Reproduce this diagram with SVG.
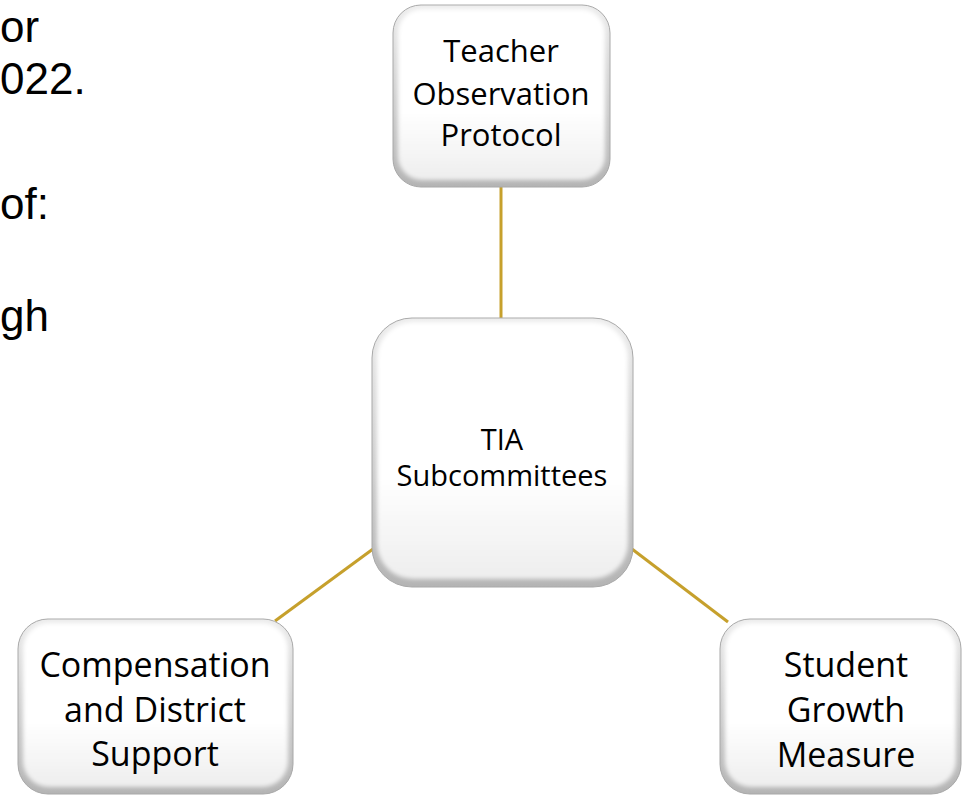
<svg xmlns="http://www.w3.org/2000/svg" width="963" height="795" viewBox="0 0 963 795">
<defs>
<linearGradient id="edge" x1="0" y1="0" x2="0" y2="1">
<stop offset="0" stop-color="#ececec"/>
<stop offset="1" stop-color="#b4b4b4"/>
</linearGradient>
<linearGradient id="face" x1="0" y1="0" x2="0" y2="1">
<stop offset="0" stop-color="#ffffff"/>
<stop offset="0.6" stop-color="#ffffff"/>
<stop offset="1" stop-color="#eeeeee"/>
</linearGradient>
<filter id="soft" x="-10%" y="-10%" width="120%" height="120%">
<feGaussianBlur stdDeviation="2.2"/>
</filter>
</defs>
<style>
.edge{fill:url(#edge);stroke:#a8a8a8;stroke-width:1}
.face{fill:url(#face);filter:url(#soft)}
.lbl{font-family:"Open Sans","Noto Sans",sans-serif;fill:#000;text-anchor:middle}
.side{font-family:"Liberation Sans",Arial,sans-serif;font-size:44px;fill:#000}
.conn{stroke:#c6a02c;stroke-width:3;fill:none}
</style>
<rect width="963" height="795" fill="#ffffff"/>
<g id="side-text">
<text class="side" x="0" y="42">or</text>
<text class="side" x="0" y="94">022.</text>
<text class="side" x="0" y="219">of:</text>
<text class="side" x="0" y="331">gh</text>
</g>
<g id="connectors">
<line class="conn" x1="501" y1="186" x2="501" y2="320"/>
<line class="conn" x1="373" y1="549" x2="275" y2="621"/>
<line class="conn" x1="632" y1="549" x2="728" y2="622"/>
</g>
<g id="node-teacher">
<rect class="edge" x="393" y="5" width="217" height="182" rx="28"/>
<rect class="face" x="398" y="9" width="207" height="171" rx="24"/>
<text class="lbl" font-size="31" x="501" y="62">Teacher</text>
<text class="lbl" font-size="31" x="501" y="105">Observation</text>
<text class="lbl" font-size="31" x="501" y="146">Protocol</text>
</g>
<g id="node-tia">
<rect class="edge" x="372" y="318" width="261" height="269" rx="40"/>
<rect class="face" x="377" y="322" width="251" height="257" rx="36"/>
<text class="lbl" font-size="29" x="502" y="450">TIA</text>
<text class="lbl" font-size="29" x="502" y="486">Subcommittees</text>
</g>
<g id="node-compensation">
<rect class="edge" x="18" y="619" width="275" height="175" rx="30"/>
<rect class="face" x="23" y="623" width="265" height="164" rx="26"/>
<text class="lbl" font-size="34" x="155" y="677">Compensation</text>
<text class="lbl" font-size="34" x="155" y="722">and District</text>
<text class="lbl" font-size="34" x="155" y="766">Support</text>
</g>
<g id="node-student">
<rect class="edge" x="720" y="619" width="241" height="175" rx="30"/>
<rect class="face" x="725" y="623" width="231" height="164" rx="26"/>
<text class="lbl" font-size="34" x="846" y="677">Student</text>
<text class="lbl" font-size="34" x="846" y="722">Growth</text>
<text class="lbl" font-size="34" x="846" y="767">Measure</text>
</g>
</svg>
